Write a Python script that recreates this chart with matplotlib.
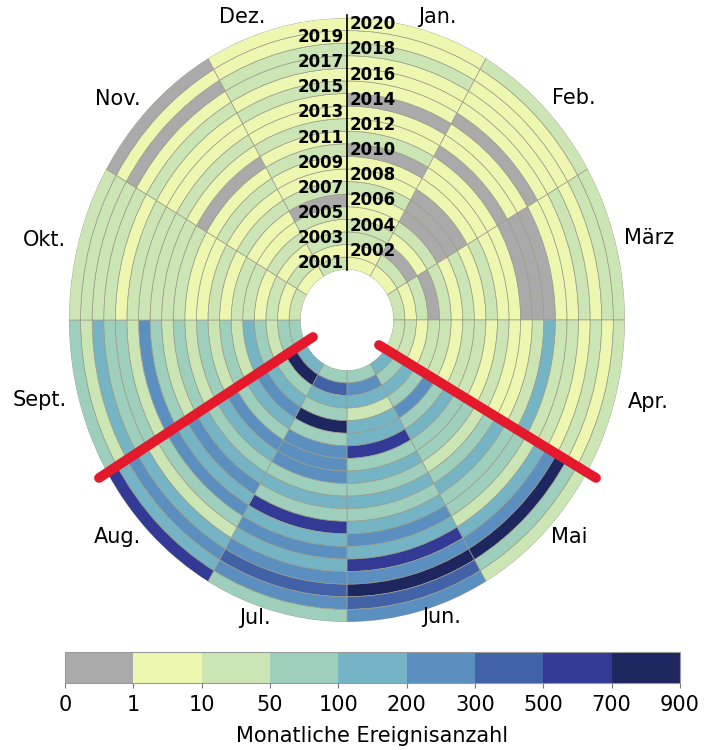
import numpy as np
import matplotlib
matplotlib.use('Agg')
import matplotlib.pyplot as plt
from matplotlib.colors import ListedColormap, BoundaryNorm
from matplotlib.cm import ScalarMappable
from matplotlib.lines import Line2D

# class index per year 2001..2020 (0: 0, 1: 1-10, 2: 10-50, 3: 50-100, 4: 100-200,
# 5: 200-300, 6: 300-500, 7: 500-700, 8: 700-900)
jan = [1, 1, 2, 2, 1, 1, 2, 1, 1, 0, 2, 1, 1, 0, 1, 1, 1, 2, 1, 1]
feb = [1, 2, 0, 1, 2, 0, 0, 0, 1, 1, 1, 0, 1, 1, 0, 1, 1, 1, 1, 2]
mar = [2, 1, 2, 0, 2, 1, 2, 1, 2, 1, 1, 0, 0, 0, 1, 1, 2, 1, 2, 2]
apr = [2, 2, 1, 2, 2, 1, 2, 2, 1, 2, 1, 1, 2, 4, 2, 2, 1, 2, 1, 2]
mai = [4, 3, 4, 3, 5, 3, 4, 3, 3, 2, 3, 4, 3, 3, 2, 4, 5, 8, 3, 2]
jun = [3, 5, 4, 2, 4, 4, 7, 3, 4, 3, 4, 3, 4, 5, 4, 7, 5, 8, 6, 5]
jul = [3, 6, 4, 3, 8, 3, 5, 5, 5, 3, 4, 3, 7, 4, 5, 4, 5, 6, 5, 3]
aug = [4, 8, 3, 4, 5, 4, 3, 5, 4, 3, 4, 5, 4, 5, 3, 2, 4, 5, 4, 7]
sep = [3, 3, 2, 3, 4, 2, 3, 2, 3, 2, 3, 2, 3, 5, 2, 3, 3, 4, 2, 3]
okt = [2, 1, 2, 1, 2, 2, 1, 2, 1, 1, 2, 2, 2, 2, 2, 1, 2, 2, 2, 2]
nov = [1, 2, 1, 2, 1, 1, 2, 1, 2, 1, 0, 1, 2, 1, 1, 2, 1, 0, 1, 0]
dez = [2, 1, 2, 1, 2, 0, 2, 1, 1, 2, 1, 2, 1, 1, 2, 1, 2, 2, 1, 1]

months = ['Jan.', 'Feb.', 'März', 'Apr.', 'Mai', 'Jun.',
          'Jul.', 'Aug.', 'Sept.', 'Okt.', 'Nov.', 'Dez.']
years = list(range(2001, 2021))
bounds = [0, 1, 10, 50, 100, 200, 300, 500, 700, 900]
colors = ['#aaaaab', '#eef7b0', '#cbe5b5', '#9dcfbc', '#74b4c4',
          '#5a8fc0', '#4262a8', '#333a96', '#1e2660']

# month label placement (degrees clockwise from north, radius in ring units)
label_deg = [18, 48, 76, 104, 132, 161, 198.5, 229, 256.5, 283.7, 311.6, 339.4]
label_r = [21.3, 22.4, 22.9, 22.8, 21.8, 21.0, 21.0, 22.3, 23.3, 22.9, 22.4, 21.7]

data = np.array([jan, feb, mar, apr, mai, jun, jul, aug, sep, okt, nov, dez])
cmap = ListedColormap(colors)
norm = BoundaryNorm(bounds, cmap.N)

fig = plt.figure(figsize=(7.06, 7.5), dpi=100)
ax = fig.add_axes([0.0977, 0.1707, 0.7875, 0.8053], projection='polar')
ax.set_theta_zero_location('N')
ax.set_theta_direction(-1)

w = 2 * np.pi / 12
rings = np.arange(len(years))
for m in range(12):
    ax.bar(np.full(len(years), (m + 0.5) * w), 1, width=w, bottom=rings,
           color=[colors[c] for c in data[m]], edgecolor='#9c9c88',
           linewidth=0.5, align='center')

ax.set_ylim(0, 20)
ax.set_rorigin(-4)
ax.set_aspect('auto')
ax.set_yticks([])
ax.set_xticks([])
ax.grid(False)
for s in ax.spines.values():
    s.set_visible(False)
    s.set_linewidth(0)
    s.set_edgecolor('none')
ax.patch.set_visible(False)

for name, d, r in zip(months, label_deg, label_r):
    ax.text(np.deg2rad(d), r, name, fontsize=15, ha='center', va='center',
            clip_on=False)

# year labels along the vertical line
ax.plot([0, 0], [0, 20.2], color='black', lw=1.2, clip_on=False)
for i, y in enumerate(years):
    if y % 2:
        ax.annotate(str(y), (0, i + 0.5), xytext=(-2, 0), textcoords='offset points',
                    ha='right', va='center', fontsize=12, fontweight='bold')
    else:
        ax.annotate(str(y), (0, i + 0.5), xytext=(2, 0), textcoords='offset points',
                    ha='left', va='center', fontsize=12, fontweight='bold')

cax = fig.add_axes([0.092, 0.0893, 0.871, 0.0413])
cb = fig.colorbar(ScalarMappable(norm=norm, cmap=cmap), cax=cax,
                  orientation='horizontal', ticks=bounds, spacing='uniform')
cb.ax.tick_params(labelsize=15, pad=5, color='#777777')
cb.outline.set_edgecolor('#999999')
cb.set_label('Monatliche Ereignisanzahl', fontsize=15, labelpad=8)

# red markers
fig.add_artist(Line2D([0.4433, 0.1402], [0.5507, 0.3627], color='#e5192c', lw=7,
                      solid_capstyle='round'))
fig.add_artist(Line2D([0.5368, 0.8442], [0.5400, 0.3627], color='#e5192c', lw=7,
                      solid_capstyle='round'))

fig.savefig('out.png', dpi=100)
